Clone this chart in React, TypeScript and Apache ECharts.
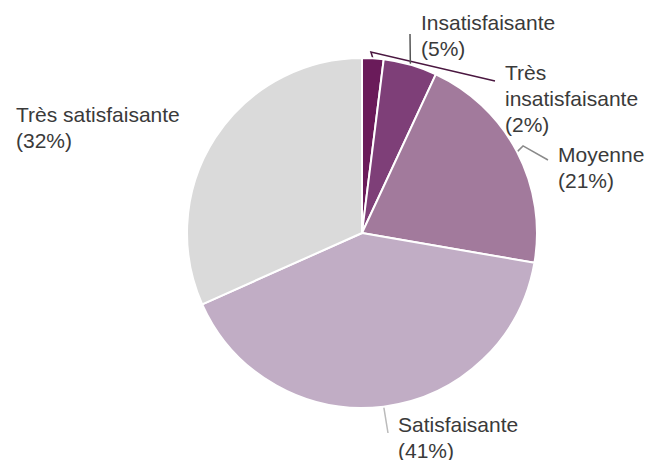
import React, { useEffect, useRef } from "react";
import * as echarts from "echarts";

const categories = [
  "Très insatisfaisante",
  "Insatisfaisante",
  "Moyenne",
  "Satisfaisante",
  "Très satisfaisante",
];
const labelTexts = [
  "Très\ninsatisfaisante\n(2%)",
  "Insatisfaisante\n(5%)",
  "Moyenne\n(21%)",
  "Satisfaisante\n(41%)",
  "Très satisfaisante\n(32%)",
];
const values = [2, 5, 21, 41, 32];
const colors = ["#6a1b5a", "#7e3f78", "#a27a9c", "#c1adc5", "#dadada"];
const lineColors = ["#4a1740", "#555555", "#8a8a8a", "#bbbbbb", "none"];
// label anchor (top-left) positions
const labelPos: [number, number][] = [
  [505, 59],
  [421, 9],
  [558, 141],
  [398, 411],
  [16, 101],
];

export default function App() {
  const ref = useRef<HTMLDivElement>(null);
  useEffect(() => {
    if (!ref.current) return;
    const chart = echarts.init(ref.current, undefined, { renderer: "svg" });
    const data = categories.map((name, i) => ({
      name,
      value: values[i],
      itemStyle: { color: colors[i] },
      label: { formatter: labelTexts[i] },
      labelLine: {
        show: lineColors[i] !== "none",
        lineStyle: { color: lineColors[i] === "none" ? "#000" : lineColors[i], width: 1.5 },
      },
    }));
    chart.setOption({
      animation: false,
      backgroundColor: "#ffffff",
      series: [
        {
          type: "pie",
          center: [362, 233],
          radius: [0, 175],
          startAngle: 90,
          clockwise: true,
          avoidLabelOverlap: false,
          itemStyle: { borderColor: "#ffffff", borderWidth: 2 },
          label: {
            show: true,
            position: "outside",
            fontFamily: "Liberation Sans, Arial, sans-serif",
            fontSize: 21,
            lineHeight: 26,
            color: "#3a3a3a",
            align: "left",
          },
          labelLine: { show: true, length: 10, length2: 10 },
          labelLayout: (params: any) => {
            const i = params.dataIndex;
            const [x, y] = labelPos[i];
            const pts = params.labelLinePoints;
            const p0 = pts && pts[0] ? pts[0] : [x, y];
            let linePts: number[][];
            if (i === 0) {
              linePts = [p0, [p0[0] - 2, 52], [x - 10, y + 22]];
            } else if (i === 1) {
              linePts = [p0, [(p0[0] + x - 11) / 2, (p0[1] + y + 25) / 2], [x - 11, y + 25]];
            } else if (i === 2) {
              linePts = [p0, [p0[0] + 6, p0[1] - 6], [x - 10, y + 19]];
            } else if (i === 3) {
              linePts = [p0, [(p0[0] + x - 10) / 2, (p0[1] + y + 22) / 2], [x - 10, y + 22]];
            } else {
              linePts = pts;
            }
            return {
              x,
              y,
              align: "left",
              verticalAlign: "top",
              labelLinePoints: linePts,
            };
          },
          data,
        },
      ],
    });
    return () => chart.dispose();
  }, []);
  return (
    <div
      ref={ref}
      style={{ position: "fixed", left: 0, top: 0, width: 648, height: 460 }}
    />
  );
}
